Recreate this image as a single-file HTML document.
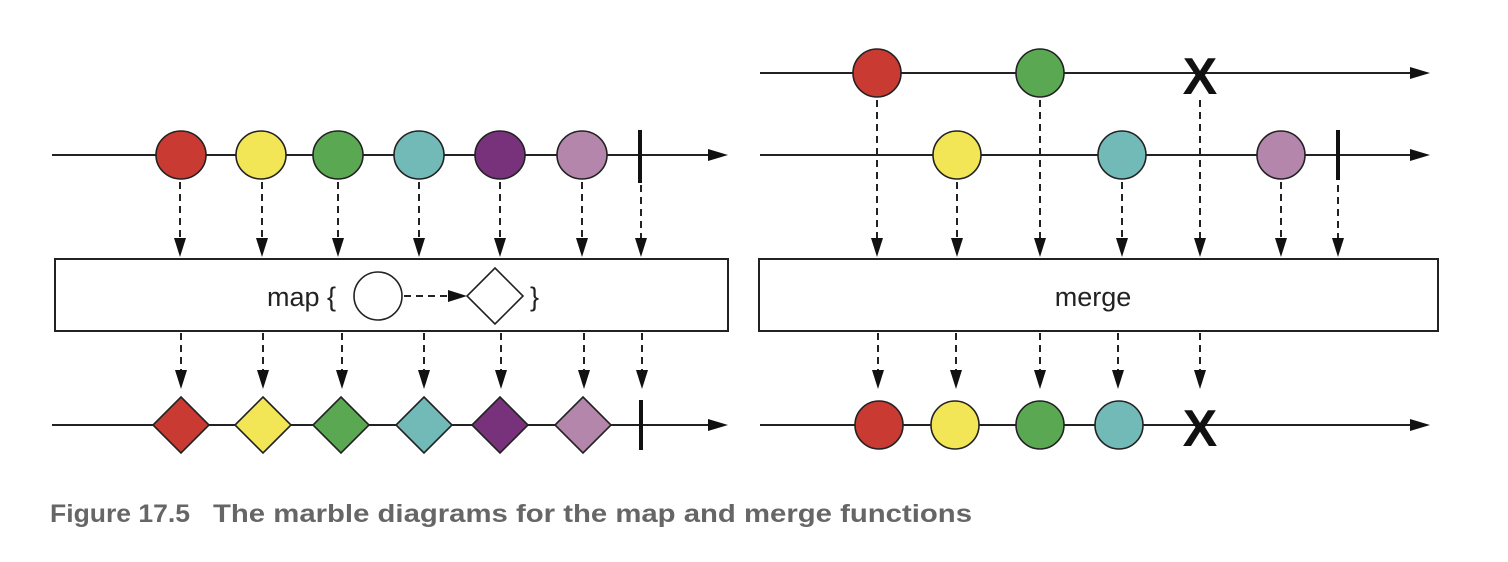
<!DOCTYPE html>
<html><head><meta charset="utf-8"><style>
html,body{margin:0;padding:0;background:#fff;}
svg{display:block;}
</style></head><body>
<svg width="1508" height="562" viewBox="0 0 1508 562" xmlns="http://www.w3.org/2000/svg" font-family="Liberation Sans, sans-serif">
<g stroke="#222" stroke-width="2" fill="none">
<line x1="52" y1="155" x2="712" y2="155"/>
<line x1="52" y1="425" x2="712" y2="425"/>
<line x1="760" y1="73" x2="1414" y2="73"/>
<line x1="760" y1="155" x2="1414" y2="155"/>
<line x1="760" y1="425" x2="1414" y2="425"/>
</g>
<g fill="#111">
<polygon points="728,155 708,149 708,161"/>
<polygon points="728,425 708,419 708,431"/>
<polygon points="1430,73 1410,67 1410,79"/>
<polygon points="1430,155 1410,149 1410,161"/>
<polygon points="1430,425 1410,419 1410,431"/>
</g>
<g stroke="#222" stroke-width="2" stroke-dasharray="7,5" fill="none">
<line x1="180" y1="182" x2="180" y2="240"/><line x1="262" y1="182" x2="262" y2="240"/><line x1="338" y1="182" x2="338" y2="240"/><line x1="419" y1="182" x2="419" y2="240"/><line x1="500" y1="182" x2="500" y2="240"/><line x1="582" y1="182" x2="582" y2="240"/><line x1="641" y1="185" x2="641" y2="240"/>
<line x1="181" y1="333" x2="181" y2="372"/><line x1="263" y1="333" x2="263" y2="372"/><line x1="342" y1="333" x2="342" y2="372"/><line x1="424" y1="333" x2="424" y2="372"/><line x1="501" y1="333" x2="501" y2="372"/><line x1="584" y1="333" x2="584" y2="372"/><line x1="642" y1="333" x2="642" y2="372"/>
<line x1="877" y1="100" x2="877" y2="240"/><line x1="957" y1="182" x2="957" y2="240"/><line x1="1040" y1="100" x2="1040" y2="240"/><line x1="1122" y1="182" x2="1122" y2="240"/><line x1="1200" y1="100" x2="1200" y2="240"/><line x1="1281" y1="182" x2="1281" y2="240"/><line x1="1338" y1="185" x2="1338" y2="240"/>
<line x1="878" y1="333" x2="878" y2="372"/><line x1="956" y1="333" x2="956" y2="372"/><line x1="1040" y1="333" x2="1040" y2="372"/><line x1="1118" y1="333" x2="1118" y2="372"/><line x1="1200" y1="333" x2="1200" y2="372"/>
</g>
<g fill="#111">
<polygon points="174,238 186,238 180,257"/><polygon points="256,238 268,238 262,257"/><polygon points="332,238 344,238 338,257"/><polygon points="413,238 425,238 419,257"/><polygon points="494,238 506,238 500,257"/><polygon points="576,238 588,238 582,257"/><polygon points="635,238 647,238 641,257"/>
<polygon points="175,370 187,370 181,389"/><polygon points="257,370 269,370 263,389"/><polygon points="336,370 348,370 342,389"/><polygon points="418,370 430,370 424,389"/><polygon points="495,370 507,370 501,389"/><polygon points="578,370 590,370 584,389"/><polygon points="636,370 648,370 642,389"/>
<polygon points="871,238 883,238 877,257"/><polygon points="951,238 963,238 957,257"/><polygon points="1034,238 1046,238 1040,257"/><polygon points="1116,238 1128,238 1122,257"/><polygon points="1194,238 1206,238 1200,257"/><polygon points="1275,238 1287,238 1281,257"/><polygon points="1332,238 1344,238 1338,257"/>
<polygon points="872,370 884,370 878,389"/><polygon points="950,370 962,370 956,389"/><polygon points="1034,370 1046,370 1040,389"/><polygon points="1112,370 1124,370 1118,389"/><polygon points="1194,370 1206,370 1200,389"/>
</g>
<rect x="55" y="259" width="673" height="72" fill="#fff" stroke="#222" stroke-width="2"/>
<rect x="759" y="259" width="679" height="72" fill="#fff" stroke="#222" stroke-width="2"/>
<line x1="404" y1="296" x2="452" y2="296" stroke="#222" stroke-width="2" stroke-dasharray="7,5"/>
<polygon points="448,290 448,302 467,296" fill="#111"/>
<text x="267" y="306" font-size="27" fill="#222">map {</text>
<circle cx="378" cy="296" r="24" fill="#fff" stroke="#222" stroke-width="1.6"/>
<polygon points="495,268 523,296 495,324 467,296" fill="#fff" stroke="#222" stroke-width="1.6"/>
<text x="530" y="306" font-size="27" fill="#222">}</text>
<text x="1093" y="306" font-size="27" fill="#222" text-anchor="middle">merge</text>
<g stroke="#222" stroke-width="1.6">
<ellipse cx="181" cy="155" rx="25" ry="24" fill="#c83a32"/>
<ellipse cx="261" cy="155" rx="25" ry="24" fill="#f2e656"/>
<ellipse cx="338" cy="155" rx="25" ry="24" fill="#5ba853"/>
<ellipse cx="419" cy="155" rx="25" ry="24" fill="#72bab8"/>
<ellipse cx="500" cy="155" rx="25" ry="24" fill="#78327c"/>
<ellipse cx="582" cy="155" rx="25" ry="24" fill="#b586ab"/>
<polygon points="181,397 209,425 181,453 153,425" fill="#c83a32"/>
<polygon points="263,397 291,425 263,453 235,425" fill="#f2e656"/>
<polygon points="341,397 369,425 341,453 313,425" fill="#5ba853"/>
<polygon points="424,397 452,425 424,453 396,425" fill="#72bab8"/>
<polygon points="500,397 528,425 500,453 472,425" fill="#78327c"/>
<polygon points="583,397 611,425 583,453 555,425" fill="#b586ab"/>
<circle cx="877" cy="73" r="24" fill="#c83a32"/>
<circle cx="1040" cy="73" r="24" fill="#5ba853"/>
<circle cx="957" cy="155" r="24" fill="#f2e656"/>
<circle cx="1122" cy="155" r="24" fill="#72bab8"/>
<circle cx="1281" cy="155" r="24" fill="#b586ab"/>
<circle cx="879" cy="425" r="24" fill="#c83a32"/>
<circle cx="955" cy="425" r="24" fill="#f2e656"/>
<circle cx="1040" cy="425" r="24" fill="#5ba853"/>
<circle cx="1119" cy="425" r="24" fill="#72bab8"/>
</g>
<g stroke="#111" stroke-width="4">
<line x1="640" y1="130" x2="640" y2="183"/>
<line x1="641" y1="400" x2="641" y2="450"/>
<line x1="1338" y1="130" x2="1338" y2="180"/>
</g>
<text x="1200" y="94" font-size="52" font-weight="bold" fill="#111" text-anchor="middle">X</text>
<text x="1200" y="446" font-size="52" font-weight="bold" fill="#111" text-anchor="middle">X</text>
<text x="50" y="522" font-size="25" font-weight="bold" fill="#666" textLength="140" lengthAdjust="spacingAndGlyphs">Figure 17.5</text>
<text x="213" y="522" font-size="25" font-weight="bold" fill="#666" textLength="759" lengthAdjust="spacingAndGlyphs">The marble diagrams for the map and merge functions</text>
</svg>
</body></html>
